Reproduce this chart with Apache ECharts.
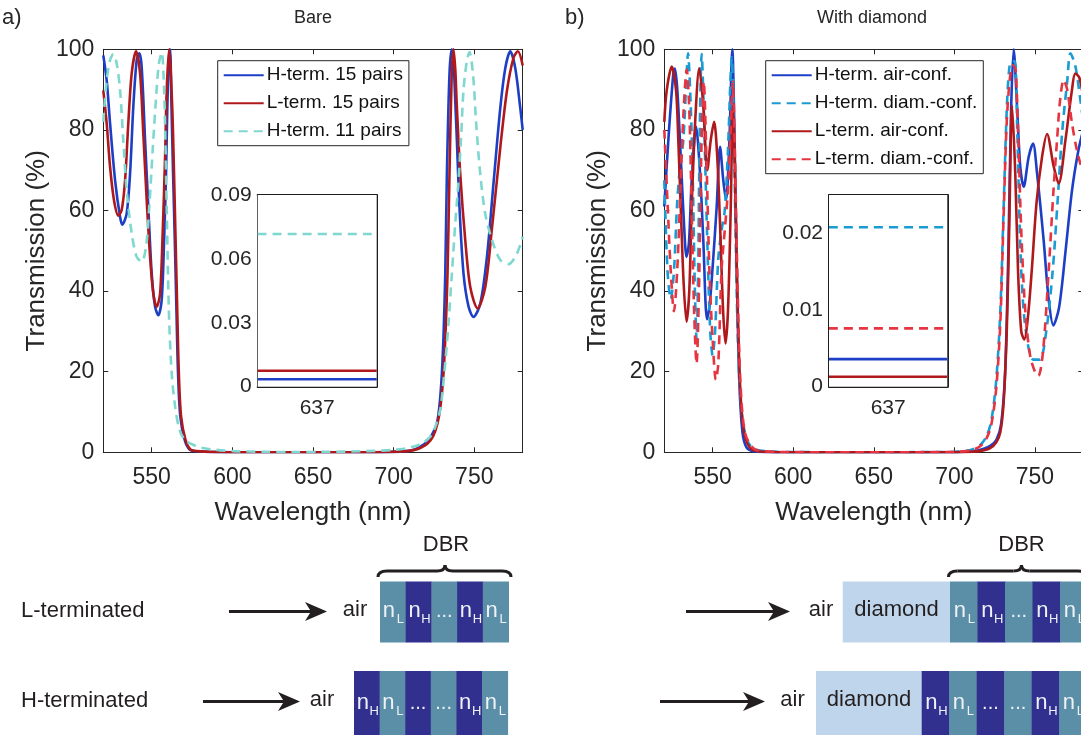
<!DOCTYPE html>
<html>
<head>
<meta charset="utf-8">
<script src="https://cdn.jsdelivr.net/npm/echarts@6/dist/echarts.min.js"></script>
<style>
  html, body { margin: 0; padding: 0; background: #fff; }
  #chart { width: 1081px; height: 735px; }
</style>
</head>
<body>
<div id="chart"></div>
<script>
// ---------- data: transmission (%) versus wavelength (nm) ----------
// a) bare DBR
const hTerm15 = [
  [520,98.5],[522.1,92.3],[524.2,81.6],[527.3,67.5],[530.4,58.4],[531.8,56.5],[534.5,59.3],[536.6,69.2],
  [538.6,85.7],[540.7,97.3],[542.3,99],[543.8,95.6],[545.9,77.4],[547.9,60.9],[550,44.4],[552.1,36.1],
  [554.1,34],[556.2,37.8],[557.7,52.6],[558.9,69.2],[559.7,85.7],[560.6,97.3],[561.4,100],[562.2,87],
  [563.2,70],[564.3,53],[565.3,36],[566.3,20],[567.7,9],[570.5,3],[573.5,0.7],[578,0.25],[590,0.05],
  [610,0.01],[640,0.004],[670,0.01],[695,0.05],[708,0.3],[713,0.7],[716.5,1.4],[720,2.4],[723.5,4.2],
  [726.8,7.2],[728.5,12],[729.9,19.6],[731,30],[732,44.4],[733,69],[734.6,93.8],[736,100],[737.1,97],
  [738.2,87],[739.2,77.4],[740.8,60.9],[743.3,44.4],[746.4,36.2],[749.5,33.6],[753.7,36.9],[757.8,48.4],
  [762,67.2],[766.1,85.4],[769.2,95.3],[772.3,99.5],[775.4,95.3],[778.5,85.4],[780,80]
];
const lTerm15 = [
  [520,89.8],[522.1,81.6],[524.2,70.8],[526.6,62.6],[529.3,58.7],[531.4,60.1],[533.5,67.5],[535.5,81.6],
  [537.6,94],[540.3,99.5],[542.8,94],[544.8,79.1],[546.9,62.6],[549,48.5],[551,39.4],[553.1,36.1],
  [555.2,39.4],[556.8,54.3],[558.3,73.3],[559.3,89.8],[560.8,100],[562.7,86],[563.8,70],[564.8,53],
  [565.8,36],[566.8,20],[568.2,9],[571,3],[574,0.7],[578,0.3],[590,0.08],[610,0.02],[640,0.008],
  [670,0.02],[695,0.08],[708,0.3],[713,0.6],[717,1.2],[721,2.2],[724.5,4],[727.2,7.2],[729.2,12],
  [730.9,19.6],[732.2,30],[733.4,44.4],[734.6,69],[736,93.8],[737.1,100],[738.2,95],[739.2,85.6],
  [741.3,69],[744.4,52.6],[747.5,41],[752,35.7],[756.8,41],[761,55.8],[766.1,75.6],[770.2,89.6],
  [774.3,97.9],[777,99.5],[780,96]
];
const hTerm11 = [
  [520,82],[522.1,92.3],[524.2,97.3],[526.2,98.8],[528.3,96.5],[530.4,89.8],[532.4,77.4],[534.5,65],
  [537.6,54.3],[540.7,48.5],[543.8,47.3],[546.5,51],[548.5,60.9],[550.6,74.9],[552.7,88],[554.4,96.3],
  [556.2,99.2],[557.7,89.8],[558.5,77.4],[559.3,60.9],[560.1,44.4],[560.9,32],[562.4,19.6],[564.5,11.4],
  [567.2,5.6],[570.7,3],[575,2],[580,1.2],[590.3,0.6],[600.6,0.3],[620,0.12],[637,0.07],[655,0.1],
  [680,0.25],[700,0.6],[710.3,1.2],[717.5,2.2],[722.7,3.9],[725.5,6],[728.9,10.6],[731.4,19.6],[734,32],
  [736.1,44.4],[738.2,56.8],[740.2,67.5],[741.7,77.4],[743.3,89.8],[745.4,97.2],[747,99.3],[749.2,93.8],
  [751.2,81.4],[753.7,69],[756.8,59.1],[761,52.6],[766.1,47.7],[771.2,46.7],[776.4,49.3],[780,53.5]
];

// b) DBR with diamond layer
const hAirConf = [
  [520,61],[522.5,77.4],[525.6,94],[526.6,95.2],[528.1,89.8],[530.2,73.3],[532.2,56.8],[533.8,48.5],
  [535.3,52],[537,67.5],[539.7,80.8],[542.2,69.2],[544.2,52.6],[546.5,33],[548,36],[550,46],[552.5,60.9],
  [554.6,75.8],[556.6,67.5],[558.3,62.6],[560.4,77.4],[562.2,100],[563.5,80],[565,45],[566.5,18],
  [568.5,5],[571,1.2],[575,0.3],[590,0.05],[640,0.004],[700,0.05],[715,0.5],[722,1.5],[726,3],[729,7],
  [731.5,20],[733.5,50],[735.2,85],[736.8,100],[738.9,85.7],[740.9,70.8],[743,65.9],[746.1,73.3],
  [748.8,76.6],[751.3,69.2],[755.4,52.6],[758.5,38],[761.4,31.5],[765,36],[769,50],[773,65],[777,75],[780,80]
];
const hDiamConf = [
  [520,67.5],[522,45],[524,38],[526,45],[528,62],[530,72],[531.8,77.4],[533.9,94],[534.7,99],[536.4,86],
  [537.6,69],[539,40],[540,28],[541,45],[542,80],[543.2,98.8],[544.5,85],[546.5,55],[548.5,30],[550,24],
  [551.5,30],[553.5,48],[555.5,55],[557.5,60],[559.5,75],[561,92],[561.8,98],[562.8,88],[564,60],
  [565.5,30],[567,15],[569,7],[572,2.5],[576,0.8],[585,0.2],[600,0.05],[640,0.021],[700,0.1],[710,0.6],
  [716,1.8],[720,4],[723,8],[726,18],[728.5,35],[730.5,60],[732.5,85],[734,95],[735.5,97],[737.5,97],
  [739,80],[741,50],[743,35],[746,26],[749,23],[753,23],[757,30],[761,45],[764,62],[767,80],[770,92],
  [772,99],[775,96],[778,88],[780,82]
];
const lAirConf = [
  [520,82],[521.5,89.8],[524.6,95.7],[527.3,89.8],[528.7,77.4],[530.2,60.9],[532,42],[533.8,32.4],
  [535.5,40],[537,60.9],[539.1,81.6],[541.7,95.3],[544.2,86],[546.7,70],[548.8,77.4],[550.9,82],
  [552.9,73],[554.6,56.5],[556.5,35],[558,27],[559.5,35],[561.2,60],[562.6,86],[563.6,75],[565,45],
  [566.5,22],[568,10],[570,4],[573,1.2],[577,0.3],[590,0.03],[640,0.0013],[700,0.03],[715,0.3],[722,1],
  [726,2.5],[728.5,5],[730.5,12],[732.5,30],[734,55],[735.8,86],[737.8,69],[739.5,45],[741.5,30],
  [743.4,28],[745.5,33],[748,45],[751,62],[754.4,73.3],[757.5,79],[761.6,71],[764.7,66.7],[768.9,77.4],
  [773,90],[775,94],[777.5,93],[780,88]
];
const lDiamConf = [
  [520,80],[522,62],[524,45],[526,35],[528,45],[530,65],[532,85],[533.9,95],[535.5,85],[537,60],
  [538.5,35],[540,22],[541.5,40],[543,75],[544.5,92],[546,75],[548,45],[550,28],[552,18],[553.5,22],
  [555.5,45],[557.5,55],[559.5,65],[561.2,80],[562.5,92],[563.5,80],[565,50],[566.5,25],[568,12],[570,5],
  [573,2],[577,0.6],[590,0.1],[640,0.0076],[700,0.1],[710,0.5],[716,1.5],[720,3.5],[723,7],[726,16],
  [728.5,32],[730.5,58],[732.5,82],[734.5,93],[736.5,96],[738,95],[739.5,80],[741.5,55],[744,35],
  [747,24],[750,20],[752.1,19],[755,25],[758.5,45],[761.5,65],[763.7,77.4],[765.5,87],[767.8,92.4],
  [770,90],[773,81.6],[776,75],[780,69]
];

// transmission (%) at 637 nm, shown in the insets
const at637Bare    = { hTerm15: 0.0035, lTerm15: 0.0075, hTerm11: 0.0717 };
const at637Diamond = { hAir: 0.0036, hDiam: 0.0208, lAir: 0.0013, lDiam: 0.0076 };

// axes
const wlTicks = [550, 600, 650, 700, 750];
const insetWl = [636, 638];
const insetTickBare = [0, 0.03, 0.06, 0.09];
const insetTickDiamond = [0, 0.01, 0.02];

// ---------- styling ----------
const FONT = 'Liberation Sans, Arial, Helvetica, sans-serif';
const INK = '#262626';
const C = {
  blue: '#1c3fc6', darkRed: '#b0191c', turquoise: '#7fd8cf',
  cyan: '#1a9bd3', red: '#e63541'
};
const DASH = [9, 6];

function xMain(grid, pos, withLabels) {
  return {
    gridIndex: grid, type: 'value', position: pos, min: 520, max: 780,
    axisLine: { show: true, onZero: false, lineStyle: { color: INK, width: 1 } },
    axisTick: { show: true, inside: true, length: 5, customValues: wlTicks, lineStyle: { color: INK } },
    axisLabel: { show: withLabels, customValues: wlTicks, fontSize: 23, color: INK, fontFamily: FONT, margin: 14 },
    splitLine: { show: false },
    name: withLabels ? 'Wavelength (nm)' : '', nameLocation: 'middle', nameGap: 48,
    nameTextStyle: { fontSize: 26, color: INK, fontFamily: FONT }
  };
}
function yMain(grid, pos, withLabels) {
  return {
    gridIndex: grid, type: 'value', position: pos, min: 0, max: 100, interval: 20,
    axisLine: { show: true, onZero: false, lineStyle: { color: INK, width: 1 } },
    axisTick: { show: true, inside: true, length: 5, lineStyle: { color: INK } },
    axisLabel: { show: withLabels, fontSize: 23, color: INK, fontFamily: FONT, margin: 9 },
    splitLine: { show: false },
    name: withLabels ? 'Transmission (%)' : '', nameLocation: 'middle', nameGap: 53, nameRotate: 90,
    nameTextStyle: { fontSize: 26, color: INK, fontFamily: FONT }
  };
}
function xInset(grid, pos, withLabels) {
  return {
    gridIndex: grid, type: 'value', position: pos, min: insetWl[0], max: insetWl[1],
    axisLine: { show: true, onZero: false, lineStyle: { color: '#1e1e1e', width: 2 } },
    axisTick: { show: true, inside: true, length: 4, customValues: [637], lineStyle: { color: '#1e1e1e', width: 2 } },
    axisLabel: { show: withLabels, customValues: [637], fontSize: 21, color: INK, fontFamily: FONT, margin: 11 },
    splitLine: { show: false }
  };
}
function yInset(grid, pos, withLabels, max, ticks) {
  return {
    gridIndex: grid, type: 'value', position: pos, min: 0, max: max,
    axisLine: { show: true, onZero: false, lineStyle: { color: '#1e1e1e', width: 2 } },
    axisTick: { show: true, inside: true, length: 4, customValues: ticks, lineStyle: { color: '#1e1e1e', width: 2 } },
    axisLabel: { show: withLabels, customValues: ticks, fontSize: 21, color: INK, fontFamily: FONT, margin: 6 },
    splitLine: { show: false }
  };
}
function line(name, data, color, dashed, xi, yi, z) {
  return {
    name: name, type: 'line', xAxisIndex: xi, yAxisIndex: yi, data: data,
    symbol: 'none', showSymbol: false, smooth: 0.3, clip: true, z: z,
    lineStyle: { color: color, width: 2.6, type: dashed ? DASH : 'solid' },
    itemStyle: { color: color }, emphasis: { disabled: true }
  };
}
function flat(name, value, color, dashed, xi, yi, z) {
  return line(name, [[insetWl[0], value], [insetWl[1], value]], color, dashed, xi, yi, z);
}

// ---------- layer-stack diagrams ----------
const TEAL = '#5b8fa7', DARK = '#32308f', DIAMOND = '#bfd5eb', TXT = '#231f20';
const g = [];
function txt(x, y, s, size, align, color) {
  g.push({ type: 'text', x: x, y: y, silent: true,
    style: { text: s, fontSize: size, fontFamily: FONT, fill: color || TXT, align: align || 'left', verticalAlign: 'middle' } });
}
function arrow(x1, x2, y) {
  g.push({ type: 'line', silent: true, shape: { x1: x1, y1: y, x2: x2 - 12, y2: y }, style: { stroke: TXT, lineWidth: 3 } });
  g.push({ type: 'polygon', silent: true,
    shape: { points: [[x2, y], [x2 - 22, y - 9.5], [x2 - 16, y], [x2 - 22, y + 9.5]] }, style: { fill: TXT } });
}
function stack(x0, y, w, h, layers) {
  layers.forEach(function (k, i) {
    const x = x0 + i * w;
    const isH = (k === 'H' || k === 'dH');
    g.push({ type: 'rect', silent: true, shape: { x: x, y: y, width: w + 0.5, height: h }, style: { fill: isH ? DARK : TEAL } });
    const cx = x + w / 2, cy = y + h / 2;
    if (k === 'L' || k === 'H') {
      txt(cx - 4, cy - 1, 'n', 22, 'center', '#eef2f7');
      txt(cx + 7.5, cy + 7, k, 13, 'center', '#eef2f7');
    } else {
      txt(cx, cy - 1, '...', 20, 'center', '#eef2f7');
    }
  });
}
function brace(x0, x1, xm) {
  const yl = 571, ye = 577, yt = 565;
  const seg = function (a, b, c, d, e, f) {
    g.push({ type: 'bezierCurve', silent: true, shape: { x1: a, y1: b, cpx1: c, cpy1: d, x2: e, y2: f },
      style: { stroke: TXT, lineWidth: 3, fill: null } });
  };
  seg(x0, ye, x0, yl, x0 + 9, yl);
  g.push({ type: 'line', silent: true, shape: { x1: x0 + 9, y1: yl, x2: xm - 8, y2: yl }, style: { stroke: TXT, lineWidth: 3 } });
  seg(xm - 8, yl, xm, yl, xm, yt);
  seg(xm, yt, xm, yl, xm + 8, yl);
  g.push({ type: 'line', silent: true, shape: { x1: xm + 8, y1: yl, x2: x1 - 9, y2: yl }, style: { stroke: TXT, lineWidth: 3 } });
  seg(x1 - 9, yl, x1, yl, x1, ye);
}

// panel labels and titles
txt(2, 18, 'a)', 22, 'left', INK);
txt(313, 18, 'Bare', 18, 'center', INK);
txt(565, 18, 'b)', 22, 'left', INK);
txt(872, 18, 'With diamond', 18, 'center', INK);

// left column: bare mirror
txt(21, 611, 'L-terminated', 22);
txt(21, 701, 'H-terminated', 22);
arrow(229, 327, 611.5);
txt(355, 610, 'air', 22, 'center');
stack(380, 581.5, 25.7, 61, ['L', 'H', 'd', 'H', 'L']);
brace(378, 511, 445);
txt(446, 545, 'DBR', 22, 'center');
arrow(203, 300, 701.5);
txt(322, 700, 'air', 22, 'center');
stack(354, 671, 25.6, 66, ['H', 'L', 'dH', 'd', 'H', 'L']);

// right column: mirror behind a diamond layer
arrow(686, 790, 611.5);
txt(821, 610, 'air', 22, 'center');
g.push({ type: 'rect', silent: true, shape: { x: 842.7, y: 581.5, width: 107.5, height: 61 }, style: { fill: DIAMOND } });
txt(896.5, 610, 'diamond', 22, 'center');
stack(950, 581.5, 27.5, 61, ['L', 'H', 'd', 'H', 'L']);
brace(948.5, 1087, 1021.5);
txt(1021.5, 545, 'DBR', 22, 'center');
arrow(660, 765, 701.5);
txt(792.5, 700, 'air', 22, 'center');
g.push({ type: 'rect', silent: true, shape: { x: 816, y: 671, width: 106, height: 66 }, style: { fill: DIAMOND } });
txt(869, 700, 'diamond', 22, 'center');
stack(921.7, 671, 27.5, 66, ['H', 'L', 'dH', 'd', 'H', 'L']);

// ---------- chart ----------
const legendBase = {
  orient: 'vertical', itemWidth: 40, itemHeight: 14, itemGap: 9, padding: [5, 6, 5, 5],
  borderColor: INK, borderWidth: 1, backgroundColor: '#fff', selectedMode: false,
  itemStyle: { opacity: 0, color: 'rgba(0,0,0,0)', borderWidth: 0 },
  textStyle: { fontSize: 19, lineHeight: 17, color: '#111', fontFamily: FONT, padding: [0, 0, 0, -2] }
};

const option = {
  animation: false,
  backgroundColor: '#fff',
  grid: [
    { left: 103.3, top: 49.3, width: 419.4, height: 403, outerBoundsMode: 'none' },
    { left: 664.3, top: 49.3, width: 419, height: 403, outerBoundsMode: 'none' },
    { left: 257.7, top: 195, width: 119, height: 191.7, show: true, backgroundColor: '#fff', borderWidth: 0, outerBoundsMode: 'none', z: 5 },
    { left: 829, top: 195, width: 118.3, height: 191.7, show: true, backgroundColor: '#fff', borderWidth: 0, outerBoundsMode: 'none', z: 5 }
  ],
  xAxis: [
    xMain(0, 'bottom', true), xMain(0, 'top', false),
    xMain(1, 'bottom', true), xMain(1, 'top', false),
    xInset(2, 'bottom', true), xInset(2, 'top', false),
    xInset(3, 'bottom', true), xInset(3, 'top', false)
  ],
  yAxis: [
    yMain(0, 'left', true), yMain(0, 'right', false),
    yMain(1, 'left', true), yMain(1, 'right', false),
    yInset(2, 'left', true, 0.09, insetTickBare), yInset(2, 'right', false, 0.09, insetTickBare),
    yInset(3, 'left', true, 0.025, insetTickDiamond), yInset(3, 'right', false, 0.025, insetTickDiamond)
  ],
  legend: [
    Object.assign({}, legendBase, { left: 217.7, top: 60.7,
      data: ['H-term. 15 pairs', 'L-term. 15 pairs', 'H-term. 11 pairs'] }),
    Object.assign({}, legendBase, { left: 765.7, top: 60.7,
      data: ['H-term. air-conf.', 'H-term. diam.-conf.', 'L-term. air-conf.', 'L-term. diam.-conf.'] })
  ],
  series: [
    line('H-term. 15 pairs', hTerm15, C.blue, false, 0, 0, 2),
    line('L-term. 15 pairs', lTerm15, C.darkRed, false, 0, 0, 3),
    line('H-term. 11 pairs', hTerm11, C.turquoise, true, 0, 0, 4),

    line('H-term. air-conf.', hAirConf, C.blue, false, 2, 2, 2),
    line('H-term. diam.-conf.', hDiamConf, C.cyan, true, 2, 2, 3),
    line('L-term. air-conf.', lAirConf, C.darkRed, false, 2, 2, 4),
    line('L-term. diam.-conf.', lDiamConf, C.red, true, 2, 2, 5),

    flat('H-term. 15 pairs, 637 nm', at637Bare.hTerm15, C.blue, false, 4, 4, 6),
    flat('L-term. 15 pairs, 637 nm', at637Bare.lTerm15, C.darkRed, false, 4, 4, 6),
    flat('H-term. 11 pairs, 637 nm', at637Bare.hTerm11, C.turquoise, true, 4, 4, 6),

    flat('H-term. air-conf., 637 nm', at637Diamond.hAir, C.blue, false, 6, 6, 6),
    flat('H-term. diam.-conf., 637 nm', at637Diamond.hDiam, C.cyan, true, 6, 6, 6),
    flat('L-term. air-conf., 637 nm', at637Diamond.lAir, C.darkRed, false, 6, 6, 6),
    flat('L-term. diam.-conf., 637 nm', at637Diamond.lDiam, C.red, true, 6, 6, 6)
  ],
  graphic: { elements: g }
};

const chart = echarts.init(document.getElementById('chart'));
chart.setOption(option);
</script>
</body>
</html>
